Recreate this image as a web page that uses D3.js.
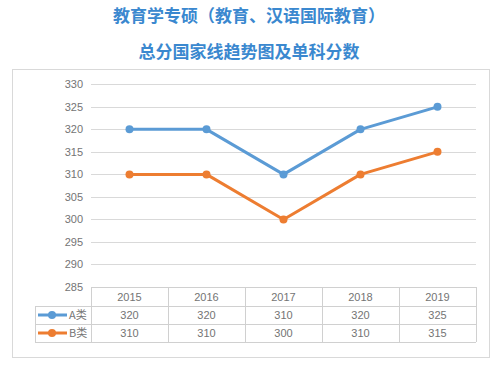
<!DOCTYPE html>
<html>
<head>
<meta charset="utf-8">
<script src="https://cdn.jsdelivr.net/npm/d3@7"></script>
<style>
  body { margin: 0; background: #fff; }
  svg { display: block; }
</style>
</head>
<body>
<svg width="504" height="370"></svg>
<script>
// chart data
const years = ['2015', '2016', '2017', '2018', '2019'];
const seriesA = [320, 320, 310, 320, 325];
const seriesB = [310, 310, 300, 310, 315];
const seriesNames = ['A类', 'B类'];
const yTicks = [285, 290, 295, 300, 305, 310, 315, 320, 325, 330];
const titleLines = ['教育学专硕（教育、汉语国际教育）', '总分国家线趋势图及单科分数'];

const colors = ['#5b9bd5', '#ed7d31'];
const series = [seriesA, seriesB];

const svg = d3.select('svg');
const cjk = '"Noto Sans CJK SC", sans-serif';
const num = '"Liberation Sans", Arial, sans-serif';
const textGray = '#747474';

// titles
svg.selectAll('.title').data(titleLines)
  .enter().append('text')
  .attr('class', 'title')
  .attr('x', 249)
  .attr('y', (d, i) => i === 0 ? 22 : 58)
  .attr('text-anchor', 'middle')
  .attr('font-family', cjk)
  .attr('font-weight', 'bold')
  .attr('font-size', 17)
  .attr('fill', '#3a88cf')
  .text(d => d);

// chart frame
svg.append('rect')
  .attr('x', 12.5).attr('y', 69.5)
  .attr('width', 477).attr('height', 288)
  .attr('fill', 'none')
  .attr('stroke', '#d9d9d9');

const x = d3.scaleBand().domain(years).range([91, 476]);
const y = d3.scaleLinear().domain([285, 330]).range([287, 84.3]);

// gridlines
svg.append('g').selectAll('line').data(yTicks.filter(t => t > 285))
  .enter().append('line')
  .attr('x1', 91).attr('x2', 476)
  .attr('y1', d => Math.round(y(d)) + 0.5)
  .attr('y2', d => Math.round(y(d)) + 0.5)
  .attr('stroke', '#d9d9d9');

// y tick labels
svg.append('g').selectAll('text').data(yTicks)
  .enter().append('text')
  .attr('x', 83)
  .attr('y', d => y(d) + 4)
  .attr('text-anchor', 'end')
  .attr('font-family', num)
  .attr('font-size', 11)
  .attr('fill', textGray)
  .text(d => d);

// lines + markers
const line = d3.line()
  .x((d, i) => x(years[i]) + x.bandwidth() / 2)
  .y(d => y(d));

series.forEach((s, k) => {
  svg.append('path')
    .datum(s)
    .attr('d', line)
    .attr('fill', 'none')
    .attr('stroke', colors[k])
    .attr('stroke-width', 3)
    .attr('stroke-linejoin', 'round');
  svg.append('g').selectAll('circle').data(s)
    .enter().append('circle')
    .attr('cx', (d, i) => x(years[i]) + x.bandwidth() / 2)
    .attr('cy', d => y(d))
    .attr('r', 4)
    .attr('fill', colors[k]);
});

// data table
const rowTop = [287, 306, 324, 342];
const tableG = svg.append('g')
  .attr('stroke', '#d0d0d0')
  .attr('fill', 'none');

// horizontal rules
rowTop.forEach((ry, i) => {
  tableG.append('line')
    .attr('x1', i === 0 ? 91 : 35).attr('x2', 476)
    .attr('y1', ry + 0.5).attr('y2', ry + 0.5);
});
// vertical rules
years.concat(['end']).forEach((yr, i) => {
  const xx = i < years.length ? x(yr) : x.range()[1];
  tableG.append('line')
    .attr('x1', Math.round(xx) + 0.5).attr('x2', Math.round(xx) + 0.5)
    .attr('y1', rowTop[0]).attr('y2', rowTop[3]);
});
tableG.append('line')
  .attr('x1', 35.5).attr('x2', 35.5)
  .attr('y1', rowTop[1]).attr('y2', rowTop[3]);

// header years
svg.append('g').selectAll('text').data(years)
  .enter().append('text')
  .attr('x', d => x(d) + x.bandwidth() / 2)
  .attr('y', (rowTop[0] + rowTop[1]) / 2 + 4)
  .attr('text-anchor', 'middle')
  .attr('font-family', num)
  .attr('font-size', 11)
  .attr('fill', textGray)
  .text(d => d);

// value rows + legend keys
series.forEach((s, k) => {
  const cy = (rowTop[k + 1] + rowTop[k + 2]) / 2;
  svg.append('g').selectAll('text').data(s)
    .enter().append('text')
    .attr('x', (d, i) => x(years[i]) + x.bandwidth() / 2)
    .attr('y', cy + 4)
    .attr('text-anchor', 'middle')
    .attr('font-family', num)
    .attr('font-size', 11)
    .attr('fill', textGray)
    .text(d => d);

  svg.append('line')
    .attr('x1', 38).attr('x2', 67)
    .attr('y1', cy).attr('y2', cy)
    .attr('stroke', colors[k])
    .attr('stroke-width', 3);
  svg.append('circle')
    .attr('cx', 52).attr('cy', cy).attr('r', 4)
    .attr('fill', colors[k]);
  svg.append('text')
    .attr('x', 69)
    .attr('y', cy + 4)
    .attr('font-family', cjk)
    .attr('font-size', 11)
    .attr('fill', textGray)
    .text(seriesNames[k]);
});
</script>
</body>
</html>
